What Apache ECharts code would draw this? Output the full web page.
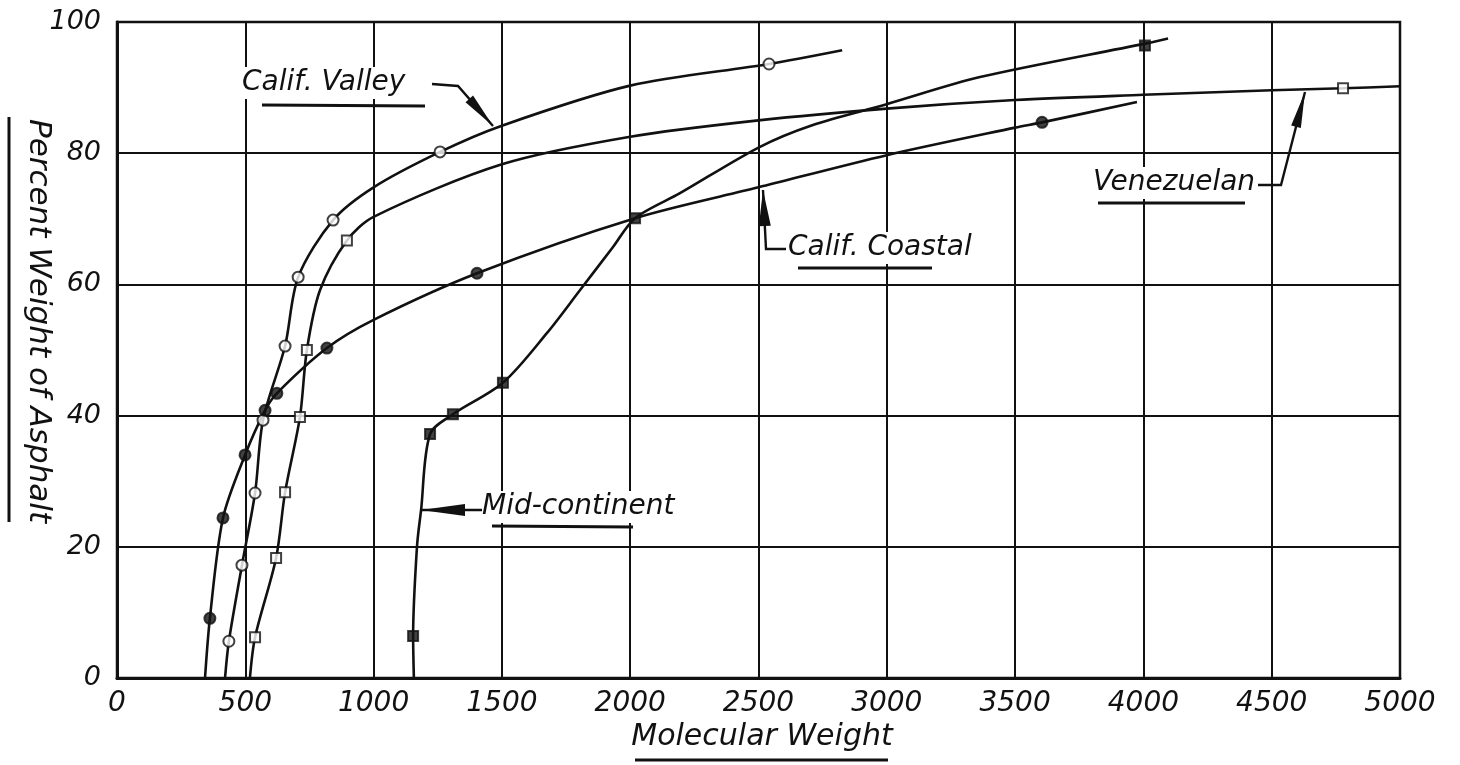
<!DOCTYPE html>
<html>
<head>
<meta charset="utf-8">
<title>Percent weight of asphalt vs molecular weight</title>
<script src="https://cdn.jsdelivr.net/npm/echarts@6/dist/echarts.min.js"></script>
<style>
  html, body { margin: 0; padding: 0; background: #fff; }
  #chart { width: 1460px; height: 765px; }
</style>
</head>
<body>
<div id="chart"></div>
<script>
// curves: [molecular weight, percent weight]
const valleyCurve = [[421, 0], [436, 5.6], [487, 17.2], [538, 28.2], [569, 39.3], [655, 50.6], [706, 61.1], [842, 69.8], [1000, 74.8], [1259, 80.2], [1500, 84.2], [2000, 90.3], [2541, 93.6], [2826, 95.7]]
const venezCurve = [[518, 0], [538, 6.2], [620, 18.3], [655, 28.3], [713, 39.8], [740, 50], [791, 59.1], [896, 66.7], [1000, 70.3], [1500, 78.3], [2000, 82.5], [2500, 85], [3000, 86.8], [3500, 88.1], [4000, 88.9], [4500, 89.6], [4778, 89.9], [5000, 90.2]]
const coastalCurve = [[343, 0], [362, 9.1], [413, 24.4], [499, 34], [577, 40.8], [623, 43.4], [818, 50.3], [1000, 54.6], [1403, 61.7], [2019, 70.1], [2500, 74.8], [3000, 79.7], [3500, 83.9], [3605, 84.7], [3975, 87.8]]
const midCurve = [[1157, 0], [1154, 6.4], [1169, 20], [1185, 25.6], [1220, 37.2], [1309, 40.2], [1504, 45], [1676, 52.6], [1804, 59.1], [1933, 65.7], [2019, 70.1], [2194, 73.9], [2502, 80.9], [2712, 84.3], [2993, 87.4], [3363, 91.6], [4006, 96.7], [4096, 97.5]]

// plotted test points
const valleyPoints = [[436, 5.6], [487, 17.2], [538, 28.2], [569, 39.3], [655, 50.6], [706, 61.1], [842, 69.8], [1259, 80.2], [2541, 93.6]]
const venezPoints = [[538, 6.2], [620, 18.3], [655, 28.3], [713, 39.8], [740, 50], [896, 66.7], [4778, 89.9]]
const coastalPoints = [[362, 9.1], [413, 24.4], [499, 34], [577, 40.8], [623, 43.4], [818, 50.3], [1403, 61.7], [3605, 84.7]]
const midPoints = [[1154, 6.4], [1220, 37.2], [1309, 40.2], [1504, 45], [2019, 70.1], [4006, 96.4]]

const xRange = [0, 5000]
const xStep = 500
const yRange = [0, 100]
const yStep = 20

const ink = '#111'
const font = '"DejaVu Sans", sans-serif'

function curve(name, data) {
  return {
    name: name,
    type: 'line',
    data: data,
    smooth: 0.3,
    showSymbol: false,
    z: 2,
    lineStyle: { color: ink, width: 2.6 },
    silent: true
  }
}

function marks(name, data, symbol, filled) {
  return {
    name: name,
    type: 'scatter',
    data: data,
    symbol: symbol,
    symbolSize: symbol === 'circle' ? 11 : 10,
    z: 4,
    itemStyle: {
      color: filled ? ink : '#fff',
      borderColor: ink,
      borderWidth: 2
    }
  }
}

// leader line with a long filled arrow head at its last point
function arrow(points, len, half) {
  const tip = points[points.length - 1]
  const from = points[points.length - 2]
  const dx = tip[0] - from[0]
  const dy = tip[1] - from[1]
  const d = Math.hypot(dx, dy)
  const ux = dx / d
  const uy = dy / d
  const bx = tip[0] - ux * len
  const by = tip[1] - uy * len
  return [
    {
      type: 'polyline',
      z: 60,
      shape: { points: points },
      style: { stroke: ink, lineWidth: 2.4, fill: null }
    },
    {
      type: 'polygon',
      z: 61,
      shape: { points: [tip, [bx - uy * half, by + ux * half], [bx + uy * half, by - ux * half]] },
      style: { fill: ink }
    }
  ]
}

function label(text, x, y, size) {
  return {
    type: 'text',
    z: 60,
    x: x,
    y: y,
    style: {
      text: text,
      font: 'italic ' + size + 'px ' + font,
      fill: ink,
      align: 'left',
      verticalAlign: 'middle',
      backgroundColor: '#fff',
      padding: [2, 4]
    }
  }
}

function rule(x1, y1, x2, y2, w) {
  return {
    type: 'line',
    z: 61,
    shape: { x1: x1, y1: y1, x2: x2, y2: y2 },
    style: { stroke: ink, lineWidth: w || 3 }
  }
}

const graphic = [
  label('Calif. Valley', 238, 83, 28),
  rule(262, 105, 425, 106),
  ...arrow([[432, 84], [458, 86], [493, 126]], 36, 5),

  label('Calif. Coastal', 784, 248, 28),
  rule(798, 268, 932, 268),
  ...arrow([[786, 249], [766, 249], [763, 190]], 36, 6),

  label('Venezuelan', 1089, 183, 28),
  rule(1098, 203, 1245, 203),
  ...arrow([[1258, 185], [1281, 185], [1305, 92]], 36, 5),

  label('Mid-continent', 478, 507, 28),
  rule(492, 526, 633, 527),
  ...arrow([[482, 510], [421, 510]], 44, 6),

  {
    type: 'text',
    z: 60,
    x: 38,
    y: 321,
    rotation: -Math.PI / 2,
    style: {
      text: 'Percent Weight of Asphalt',
      font: 'italic 31px ' + font,
      fill: ink,
      align: 'center',
      verticalAlign: 'middle'
    }
  },
  rule(9, 117, 9, 522),

  {
    type: 'text',
    z: 60,
    x: 762,
    y: 737,
    style: {
      text: 'Molecular Weight',
      font: 'italic 30px ' + font,
      fill: ink,
      align: 'center',
      verticalAlign: 'middle'
    }
  },
  rule(635, 760, 888, 760)
]

const chart = echarts.init(document.getElementById('chart'))

chart.setOption({
  backgroundColor: '#fff',
  animation: false,
  grid: {
    left: 117,
    top: 22,
    width: 1283,
    height: 656,
    show: true,
    borderColor: ink,
    borderWidth: 2.5,
    backgroundColor: 'transparent'
  },
  xAxis: {
    type: 'value',
    min: xRange[0],
    max: xRange[1],
    interval: xStep,
    axisLine: { show: true, lineStyle: { color: ink, width: 3 } },
    axisTick: { show: false },
    splitLine: { show: true, lineStyle: { color: ink, width: 2 } },
    axisLabel: {
      color: ink,
      fontFamily: font,
      fontStyle: 'italic',
      fontSize: 28,
      margin: 12,
      formatter: function (v) { return String(v) }
    }
  },
  yAxis: {
    type: 'value',
    min: yRange[0],
    max: yRange[1],
    interval: yStep,
    axisLine: { show: true, lineStyle: { color: ink, width: 3 } },
    axisTick: { show: false },
    splitLine: { show: true, lineStyle: { color: ink, width: 2 } },
    axisLabel: {
      color: ink,
      fontFamily: font,
      fontStyle: 'italic',
      fontSize: 27,
      margin: 16
    }
  },
  series: [
    curve('Calif. Valley', valleyCurve),
    curve('Venezuelan', venezCurve),
    curve('Calif. Coastal', coastalCurve),
    curve('Mid-continent', midCurve),
    marks('Calif. Valley', valleyPoints, 'circle', false),
    marks('Venezuelan', venezPoints, 'rect', false),
    marks('Calif. Coastal', coastalPoints, 'circle', true),
    marks('Mid-continent', midPoints, 'rect', true)
  ],
  graphic: graphic
})
</script>
</body>
</html>
